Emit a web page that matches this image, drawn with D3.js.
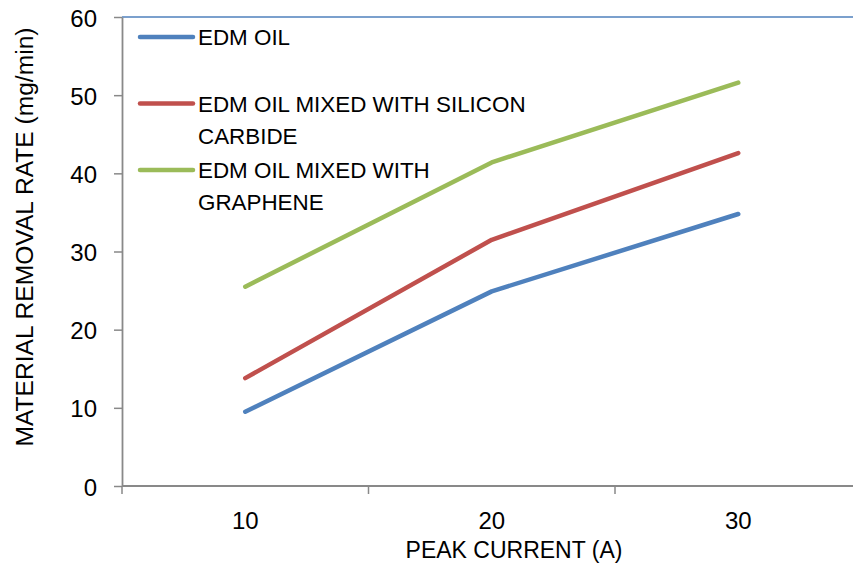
<!DOCTYPE html>
<html>
<head>
<meta charset="utf-8">
<script src="https://cdn.jsdelivr.net/npm/d3@7"></script>
<style>
  html, body { margin: 0; padding: 0; background: #fff; }
  svg { display: block; }
  text { font-family: "Liberation Sans", Arial, sans-serif; fill: #000; }
</style>
</head>
<body>
<svg id="chart" width="853" height="571"></svg>
<script>
// ---- data ----
const categories = ["10", "20", "30"];
const seriesNames = ["EDM OIL", "EDM OIL MIXED WITH SILICON CARBIDE", "EDM OIL MIXED WITH GRAPHENE"];
const legendLines = [["EDM OIL"], ["EDM OIL MIXED WITH SILICON", "CARBIDE"], ["EDM OIL MIXED WITH", "GRAPHENE"]];
const edmOil = [9.5, 24.9, 34.8];
const edmOilSiC = [13.8, 31.5, 42.6];
const edmOilGraphene = [25.5, 41.4, 51.6];
const yTicks = [0, 10, 20, 30, 40, 50, 60];
const colors = ["#4f81bd", "#c0504d", "#9bbb59"];
const xTitle = "PEAK CURRENT (A)";
const yTitle = "MATERIAL REMOVAL RATE (mg/min)";

const series = [edmOil, edmOilSiC, edmOilGraphene];

const svg = d3.select("#chart");
const pLeft = 122, pTop = 17, pBottom = 486, pRight = 861.5;

const x = d3.scaleBand().domain(categories).range([pLeft, pRight]).padding(0);
const y = d3.scaleLinear().domain([0, 60]).range([pBottom, pTop]);

// top border line
svg.append("line")
  .attr("x1", pLeft).attr("x2", 853)
  .attr("y1", y(60)).attr("y2", y(60))
  .attr("stroke", "#4f81bd").attr("stroke-width", 1.5);

// y axis
const yAxis = svg.append("g")
  .attr("transform", `translate(${pLeft},0)`)
  .call(d3.axisLeft(y).tickValues(yTicks).tickSize(8).tickPadding(17).tickSizeOuter(0));
yAxis.select(".domain").attr("stroke", "#898989").attr("stroke-width", 1.8);
yAxis.selectAll(".tick line").attr("stroke", "#898989").attr("stroke-width", 1.5);
yAxis.selectAll(".tick text").attr("font-size", 24).attr("dy", "0.38em")
  .style("font-family", "'Liberation Sans', Arial, sans-serif").attr("fill", "#000");

// x axis (labels at band centers)
const xAxis = svg.append("g")
  .attr("transform", `translate(0,${pBottom})`)
  .call(d3.axisBottom(x).tickSize(0).tickPadding(26).tickSizeOuter(0));
xAxis.select(".domain").remove();
xAxis.selectAll(".tick text").attr("font-size", 24)
  .style("font-family", "'Liberation Sans', Arial, sans-serif").attr("fill", "#000");

svg.append("line")
  .attr("x1", pLeft).attr("x2", 853)
  .attr("y1", pBottom).attr("y2", pBottom)
  .attr("stroke", "#898989").attr("stroke-width", 1.8);

// boundary ticks between categories
const boundaries = categories.map(c => x(c)).concat([x(categories[categories.length - 1]) + x.bandwidth()]);
svg.append("g").selectAll("line").data(boundaries).join("line")
  .attr("x1", d => d).attr("x2", d => d)
  .attr("y1", pBottom).attr("y2", pBottom + 8)
  .attr("stroke", "#898989").attr("stroke-width", 1.5);

// lines
const line = d3.line()
  .x((d, i) => x(categories[i]) + x.bandwidth() / 2)
  .y(d => y(d));

svg.append("g").selectAll("path").data(series).join("path")
  .attr("d", d => line(d))
  .attr("fill", "none")
  .attr("stroke", (d, i) => colors[i])
  .attr("stroke-width", 4.5)
  .attr("stroke-linecap", "round")
  .attr("stroke-linejoin", "round");

// legend
const legendY = [37, 103.5, 170];
const lg = svg.append("g");
legendLines.forEach((lines, i) => {
  lg.append("line")
    .attr("x1", 140).attr("x2", 193)
    .attr("y1", legendY[i]).attr("y2", legendY[i])
    .attr("stroke", colors[i]).attr("stroke-width", 4.5)
    .attr("stroke-linecap", "round");
  const t = lg.append("text")
    .attr("x", 198).attr("y", legendY[i] + 8)
    .attr("font-size", 22.4);
  lines.forEach((s, j) => {
    t.append("tspan").attr("x", 198).attr("dy", j === 0 ? 0 : 32).text(s);
  });
});

// axis titles
svg.append("text")
  .attr("x", 514).attr("y", 558)
  .attr("text-anchor", "middle")
  .attr("font-size", 23)
  .text(xTitle);

svg.append("text")
  .attr("transform", "translate(33,237) rotate(-90)")
  .attr("text-anchor", "middle")
  .attr("font-size", 24.6)
  .text(yTitle);
</script>
</body>
</html>
